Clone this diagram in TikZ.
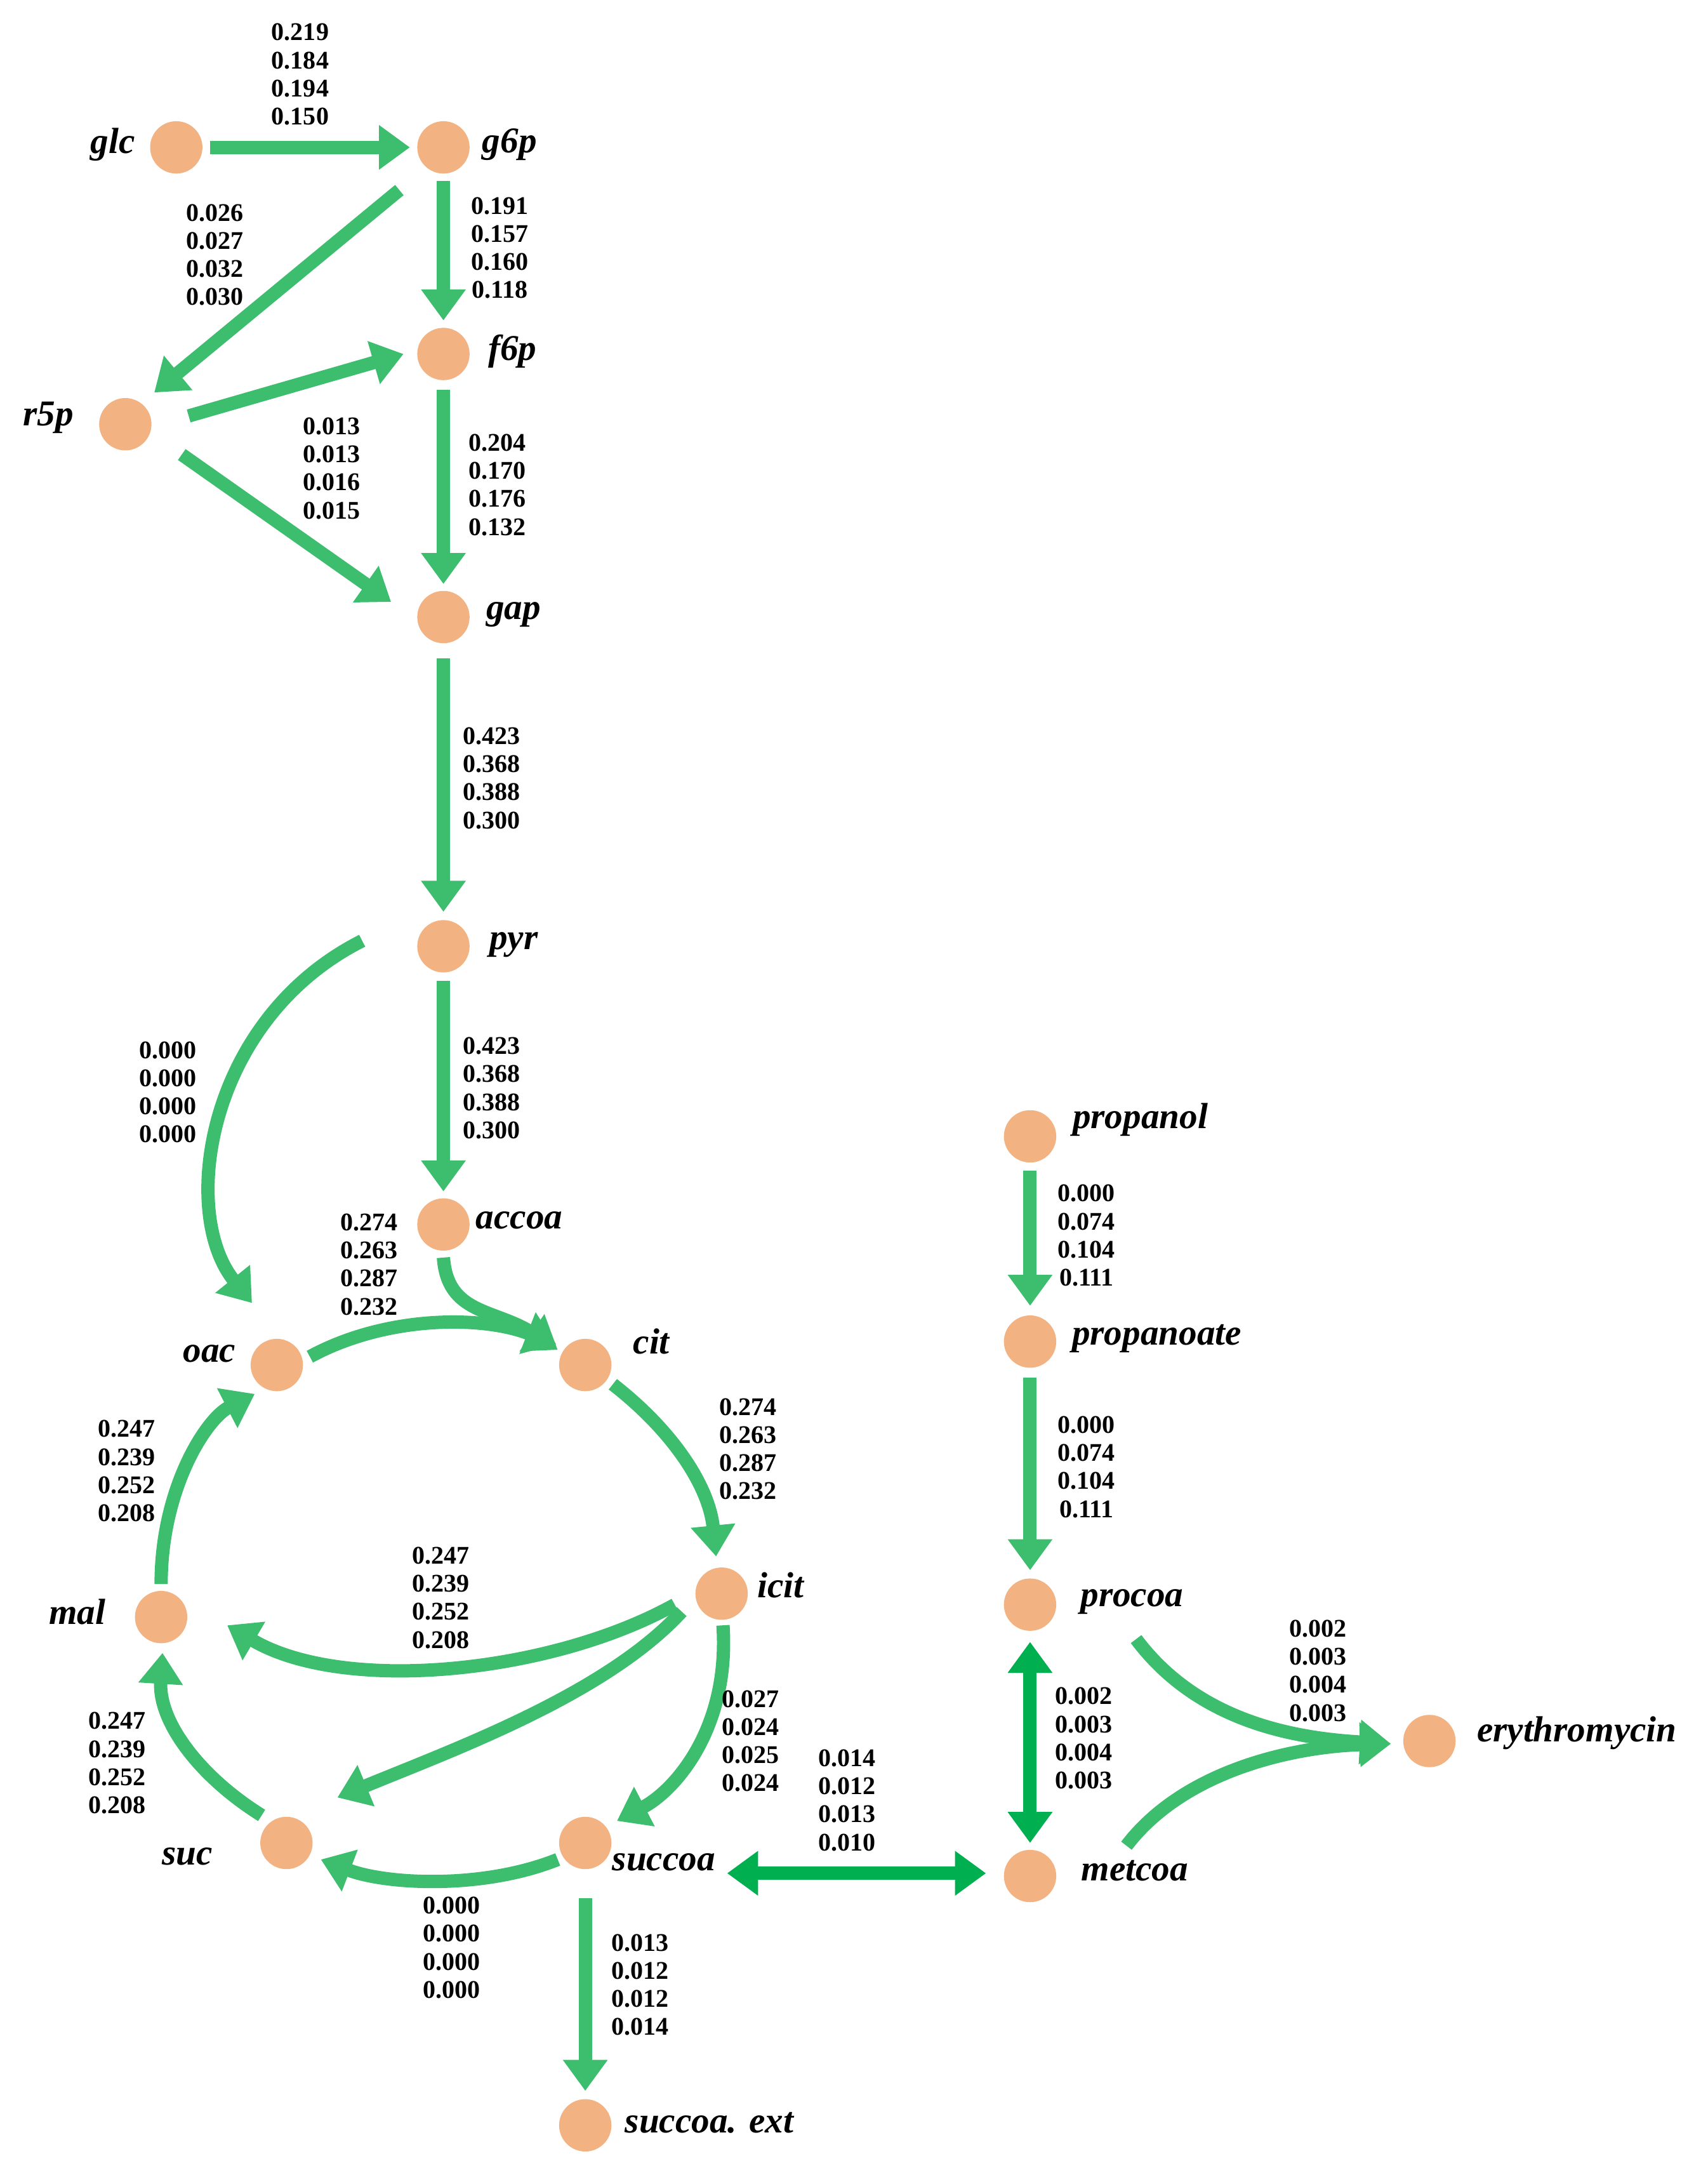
\documentclass[tikz,border=0pt]{standalone}
\usepackage{fontspec}
\setmainfont{Liberation Serif}
\usetikzlibrary{arrows.meta}
\definecolor{fl}{RGB}{60,190,110}
\definecolor{fd}{RGB}{0,176,80}
\definecolor{nd}{RGB}{242,178,130}
\begin{document}
\begin{tikzpicture}[x=0.02cm,y=-0.02cm,
 met/.style={circle,fill=nd,minimum size=0.76cm,inner sep=0pt},
 lab/.style={font=\fontsize{15}{18}\selectfont\bfseries\itshape},
 num/.style={font=\fontsize{10.5}{11.6}\selectfont\bfseries,align=center,inner sep=0pt},
 fa/.style={draw=fl,line width=5.5pt,-{Triangle[length=0.45cm,width=0.62cm]}},
 fb/.style={draw=fd,line width=5.5pt,{Triangle[length=0.45cm,width=0.62cm]}-{Triangle[length=0.45cm,width=0.62cm]}},
 sh/.style={shorten <=0.1cm,shorten >=0.1cm}]
\useasboundingbox (0,0) rectangle (1240,1574);
\node[met] (glc) at (128,107) {};
\node[met] (g6p) at (322,107) {};
\node[met] (f6p) at (322,257) {};
\node[met] (r5p) at (91,308) {};
\node[met] (gap) at (322,448) {};
\node[met] (pyr) at (322,687) {};
\node[met] (accoa) at (322,889) {};
\node[met] (oac) at (201,991) {};
\node[met] (cit) at (425,991) {};
\node[met] (icit) at (524,1157) {};
\node[met] (mal) at (117,1174) {};
\node[met] (suc) at (208,1338) {};
\node[met] (succoa) at (425,1338) {};
\node[met] (ext) at (425,1543) {};
\node[met] (propanol) at (748,825) {};
\node[met] (propanoate) at (748,974) {};
\node[met] (procoa) at (748,1165) {};
\node[met] (metcoa) at (748,1362) {};
\node[met] (ery) at (1038,1264) {};
\node[lab] (l1) at (82,105) {glc};
\node[lab] (l2) at (370,105) {g6p};
\node[lab] (l3) at (372,255) {f6p};
\node[lab] (l4) at (35,303) {r5p};
\node[lab] (l5) at (373,446) {gap};
\node[lab] (l6) at (373,686) {pyr};
\node[lab] (l7) at (377,886) {accoa};
\node[lab] (l8) at (152,983) {oac};
\node[lab] (l9) at (473,974) {cit};
\node[lab] (l10) at (567,1151) {icit};
\node[lab] (l11) at (56,1170) {mal};
\node[lab] (l12) at (136,1348) {suc};
\node[lab] (l13) at (482,1352) {succoa};
\node[lab] (l14) at (515,1541) {succoa. ext};
\node[lab] (l15) at (828,813) {propanol};
\node[lab] (l16) at (840,972) {propanoate};
\node[lab] (l17) at (822,1163) {procoa};
\node[lab] (l18) at (824,1358) {metcoa};
\node[lab] (l19) at (1145,1258) {erythromycin};
% arrows
\draw[fa,sh] (glc) -- (g6p);
\draw[fa] (290,138) -- (112,285);
\draw[fa,sh] (g6p) -- (f6p);
\draw[fa] (137,302) -- (293,257);
\draw[fa] (132,330) -- (284,437);
\draw[fa] (322,283) -- (322,424);
\draw[fa] (322,478) -- (322,662);
\draw[fa] (263,683) .. controls (150,740) and (130,880) .. (183,946);
\draw[fa] (322,712) -- (322,865);
\draw[fa] (322,913) .. controls (325,955) and (360,950) .. (405,980);
\draw[fa] (225,985) .. controls (280,955) and (350,955) .. (404,976);
\draw[fa] (445,1005) .. controls (490,1040) and (515,1080) .. (520,1130);
\draw[fa] (490,1165) .. controls (400,1215) and (250,1230) .. (165,1180);
\draw[fa] (495,1170) .. controls (440,1230) and (330,1270) .. (245,1305);
\draw[fa] (525,1180) .. controls (530,1255) and (490,1300) .. (448,1322);
\draw[fa] (405,1350) .. controls (350,1372) and (280,1368) .. (233,1350);
\draw[fa] (190,1318) .. controls (145,1290) and (115,1250) .. (118,1200);
\draw[fa] (117,1150) .. controls (117,1080) and (150,1030) .. (185,1012);
\draw[fa] (425,1378) -- (425,1518);
\draw[fb] (528,1360) -- (716,1360);
\draw[fb] (748,1192) -- (748,1338);
\draw[fa] (748,850) -- (748,948);
\draw[fa] (748,1000) -- (748,1140);
\draw[fa] (825,1190) .. controls (870,1250) and (940,1262) .. (1010,1266);
\draw[fa] (818,1340) .. controls (860,1285) and (940,1268) .. (1010,1266);
% numbers
\node[num] (n1) at (218,54) {0.219\\0.184\\0.194\\0.150};
\node[num] (n2) at (156,185) {0.026\\0.027\\0.032\\0.030};
\node[num] (n3) at (363,180) {0.191\\0.157\\0.160\\0.118};
\node[num] (n4) at (241,340) {0.013\\0.013\\0.016\\0.015};
\node[num] (n5) at (361,352) {0.204\\0.170\\0.176\\0.132};
\node[num] (n6) at (357,565) {0.423\\0.368\\0.388\\0.300};
\node[num] (n7) at (122,793) {0.000\\0.000\\0.000\\0.000};
\node[num] (n8) at (357,790) {0.423\\0.368\\0.388\\0.300};
\node[num] (n9) at (268,918) {0.274\\0.263\\0.287\\0.232};
\node[num] (n10) at (543,1052) {0.274\\0.263\\0.287\\0.232};
\node[num] (n11) at (92,1068) {0.247\\0.239\\0.252\\0.208};
\node[num] (n12) at (320,1160) {0.247\\0.239\\0.252\\0.208};
\node[num] (n13) at (545,1264) {0.027\\0.024\\0.025\\0.024};
\node[num] (n14) at (615,1307) {0.014\\0.012\\0.013\\0.010};
\node[num] (n15) at (85,1280) {0.247\\0.239\\0.252\\0.208};
\node[num] (n16) at (328,1414) {0.000\\0.000\\0.000\\0.000};
\node[num] (n17) at (465,1441) {0.013\\0.012\\0.012\\0.014};
\node[num] (n18) at (789,897) {0.000\\0.074\\0.104\\0.111};
\node[num] (n19) at (789,1065) {0.000\\0.074\\0.104\\0.111};
\node[num] (n20) at (787,1262) {0.002\\0.003\\0.004\\0.003};
\node[num] (n21) at (957,1213) {0.002\\0.003\\0.004\\0.003};
\end{tikzpicture}
\end{document}
